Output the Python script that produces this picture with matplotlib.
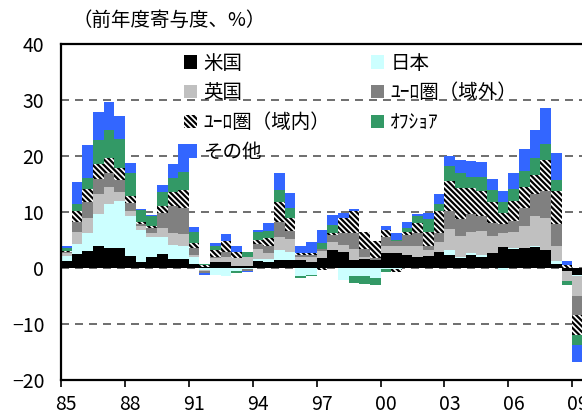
import numpy as np
import matplotlib.pyplot as plt
from matplotlib.patches import Patch

plt.rcParams['font.family'] = ['Noto Sans CJK JP', 'DejaVu Sans']
plt.rcParams['hatch.linewidth'] = 1.6

# 半期ごと（85年上期〜09年上期）の前年比寄与度
us = [1.3, 2.5, 3.1, 3.9, 3.6, 3.6, 2.1, 1.1, 2.0, 2.5, 1.6, 1.6, 0.8, 0.2, 1.0, 1.0, 0.35,
      0.3, 1.3, 1.1, 1.4, 1.4, 1.4, 1.1, 1.85, 3.3, 2.9, 1.4, 1.6, 1.4, 2.6, 2.6, 2.3, 2.0,
      2.1, 2.9, 2.4, 1.7, 2.3, 2.0, 2.7, 3.75, 3.4, 3.6, 3.75, 3.3, 0.8, -0.5, -1.2]
jp = [0.85, 1.8, 3.2, 5.7, 7.9, 8.4, 7.2, 5.7, 3.6, 3.1, 2.5, 2.3, 1.1, -0.3, -1.2, -1.4, -0.6,
      -0.2, 0.35, 0.5, 1.8, 1.5, -1.5, -1.3, 0.0, 0.0, -2.1, -1.4, -1.5, -1.8, -0.2, -0.1, 0.0,
      0.0, 0.0, 0.0, 0.8, 0.3, 0.35, 0.35, 0.0, -0.3, 0.2, 0.0, 0.2, 0.0, 0.4, -0.1, -0.3]
uk = [0.5, 2.2, 2.6, 3.6, 3.0, 1.5, 0.8, 0.7, 0.7, 1.6, 2.1, 2.1, 0.4, -0.2, 0.7, 1.0, 1.5,
      1.6, 1.8, 1.1, 2.4, 2.3, 0.6, 0.8, 1.2, 1.4, 1.2, 2.0, 0.3, 0.0, 1.3, 1.3, 1.6, 1.9,
      1.1, 1.8, 3.75, 3.75, 3.8, 4.3, 3.0, 2.5, 2.85, 3.9, 5.35, 5.55, 2.7, -1.7, -3.5]
euro_out = [0.25, 1.8, 2.9, 2.7, 2.4, 2.2, 1.5, 0.4, 0.8, 2.6, 4.8, 4.8, 1.3, -0.4, 0.2, 0.9,
            0.0, -0.4, 0.9, 1.2, 2.6, 1.4, 0.3, 0.4, 0.3, 1.2, 2.1, 2.9, 1.5, 0.3, 1.7, 0.9,
            2.0, 2.3, 0.7, 1.6, 3.2, 3.0, 3.15, 2.7, 2.3, 1.55, 1.95, 3.15, 4.0, 4.9, 4.0, 0.0,
            -3.4]
euro_in = [0.2, 1.8, 2.3, 2.7, 2.8, 2.2, 1.3, 0.4, 0.4, 1.3, 2.6, 3.2, 0.9, 0.3, 1.3, 1.9, 1.0,
           0.0, 0.7, 1.5, 3.6, 2.3, 0.3, 0.3, -0.3, 0.3, 2.7, 3.9, 3.1, 3.1, 1.2, -0.6, 0.6,
           1.8, 2.6, 3.9, 5.4, 5.6, 4.6, 4.4, 3.75, 2.0, 3.55, 3.75, 3.3, 5.55, 5.8, 0.5, -3.6]
offshore = [0.4, 1.4, 1.9, 4.2, 4.9, 5.2, 4.0, 2.0, 1.8, 2.4, 2.5, 3.2, 2.0, 0.3, 0.8, 0.0,
            -0.3, 0.9, 1.4, 1.2, 2.1, 1.8, -0.2, -0.2, 1.1, 1.5, 0.0, -1.3, -1.4, -1.3, -0.6,
            0.2, 0.7, 1.3, 2.2, 1.3, 2.6, 2.7, 2.1, 2.5, 2.1, 2.0, 2.1, 2.9, 3.0, 2.8, 2.0,
            -0.7, -1.8]
other = [0.4, 3.9, 6.0, 5.1, 5.1, 4.0, 1.9, 0.2, 0.2, 1.3, 2.4, 5.0, 0.9, -0.3, 0.5, 1.25, 1.0,
         -0.2, 0.3, 1.4, 3.1, 2.7, 1.4, 2.1, 2.4, 1.8, 1.0, 0.4, 0.0, 0.0, 0.7, 1.2, 1.0, 0.35,
         1.2, 1.8, 1.9, 2.3, 2.8, 2.6, 2.1, 2.0, 3.0, 3.9, 5.05, 6.55, 4.9, 0.8, -3.0]

names = ['米国', '日本', '英国', 'ﾕｰﾛ圏（域外）', 'ﾕｰﾛ圏（域内）', 'ｵﾌｼｮｱ', 'その他']
series = [us, jp, uk, euro_out, euro_in, offshore, other]
year_labels = ['85', '88', '91', '94', '97', '00', '03', '06', '09']

styles = [
    dict(facecolor='#000000', edgecolor='#000000'),
    dict(facecolor='#CCFFFF', edgecolor='#CCFFFF'),
    dict(facecolor='#C0C0C0', edgecolor='#C0C0C0'),
    dict(facecolor='#808080', edgecolor='#808080'),
    dict(facecolor='#FFFFFF', edgecolor='#000000', hatch='\\' * 6),
    dict(facecolor='#339966', edgecolor='#339966'),
    dict(facecolor='#3366FF', edgecolor='#3366FF'),
]

fig = plt.figure(figsize=(5.82, 4.18), dpi=100)
ax = fig.add_axes([61 / 582, 38 / 418, 532.5 / 582, 336 / 418])

n = len(us)
x = np.arange(n)
pos = np.zeros(n)
neg = np.zeros(n)
for vals, st in zip(series, styles):
    v = np.array(vals)
    bottom = np.where(v >= 0, pos, neg)
    ax.bar(x, v, width=1.0, bottom=bottom, linewidth=0, zorder=2, **st)
    pos += np.clip(v, 0, None)
    neg += np.clip(v, None, 0)

ax.set_xlim(-0.5, n + 0.5)
ax.set_ylim(-20, 40)
ax.set_yticks(range(-20, 41, 10))
ax.set_yticklabels(['−20', '−10', '0', '10', '20', '30', '40'])
for yv in range(-10, 40, 10):
    ax.axhline(yv, color='#555555', lw=1.2, ls=(0, (4.8, 3.6)), zorder=1)

# 目盛り線は年の境目、ラベルは上期の中央
ax.set_xticks(np.arange(0, n, 6) - 0.5)
ax.set_xticklabels([])
ax.set_xticks(np.arange(0, n, 6), minor=True)
ax.set_xticklabels(year_labels, minor=True)
ax.tick_params(axis='x', which='major', direction='out', length=5, width=1.2)
ax.tick_params(axis='x', which='minor', length=0, pad=10, labelsize=14)
ax.tick_params(axis='y', length=0, pad=12, labelsize=14)

for side in ['left', 'bottom', 'top']:
    ax.spines[side].set_linewidth(1.6)
ax.spines['right'].set_visible(False)

fig.text(72 / 582, 1 - 20 / 418, '（前年度寄与度、%）', fontsize=14, va='center', ha='left')

handles = [Patch(linewidth=0, **st) for st in styles]
order = [0, 2, 4, 6, 1, 3, 5]
ax.legend([handles[i] for i in order], [names[i] for i in order], ncol=2, frameon=False,
          loc='upper left', bbox_to_anchor=(174 / 582, 1 - 43 / 418),
          bbox_transform=fig.transFigure, fontsize=14, handlelength=0.7, handleheight=0.7,
          handletextpad=0.3, labelspacing=0.45, columnspacing=2.1, borderpad=0)

fig.savefig('out.png', dpi=100)
